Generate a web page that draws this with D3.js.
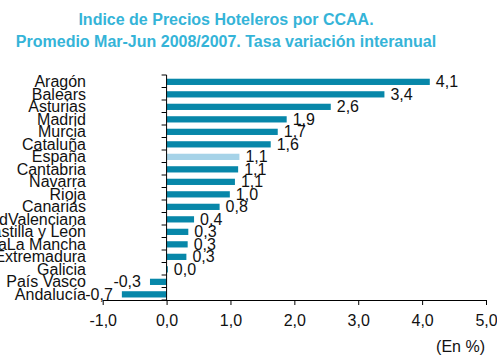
<!DOCTYPE html>
<html>
<head>
<meta charset="utf-8">
<script src="https://cdn.jsdelivr.net/npm/d3@7"></script>
<style>
  html, body { margin: 0; padding: 0; background: #fff; }
  svg { display: block; font-family: "Liberation Sans", Arial, sans-serif; }
</style>
</head>
<body>
<svg id="chart" width="497" height="356"></svg>
<script>
// Hotel price index by autonomous community, Mar-Jun 2008 vs 2007 (%)
const regions = [
  "Aragón", "Balears", "Asturias", "Madrid", "Murcia", "Cataluña", "España",
  "Cantabria", "Navarra", "Rioja", "Canarias", "ComunidadValenciana",
  "Castilla y León", "CastillaLa Mancha", "Extremadura", "Galicia",
  "País Vasco", "Andalucía"
];
const rates = [
  4.12, 3.41, 2.57, 1.88, 1.74, 1.63, 1.14,
  1.12, 1.07, 0.99, 0.83, 0.43,
  0.34, 0.33, 0.31, 0.02,
  -0.26, -0.70
];
const highlight = "España";
const xTicks = [-1, 0, 1, 2, 3, 4, 5];
const titleLines = [
  "Indice de Precios Hoteleros por CCAA.",
  "Promedio Mar-Jun 2008/2007. Tasa variación interanual"
];
const unitLabel = "(En %)";

const data = regions.map((r, i) => ({ region: r, value: rates[i] }));
const fmt = v => d3.format(".1f")(v).replace("−", "-").replace(".", ",");

const svg = d3.select("#chart");
const plot = { left: 102.7, right: 486, top: 75, bottom: 300 };

const x = d3.scaleLinear().domain([-1, 5]).range([plot.left, plot.right]);
const y = d3.scaleBand().domain(regions).range([plot.top, plot.bottom])
  .paddingInner(0.5).paddingOuter(0.25);

const barColor = "#0787A9", highlightColor = "#A6D3E8", titleColor = "#35B4D8";
const textColor = "#111";

// Title
svg.append("g").selectAll("text").data(titleLines).join("text")
  .attr("x", 226)
  .attr("y", (d, i) => 25 + i * 21.5)
  .attr("text-anchor", "middle")
  .attr("font-weight", "bold")
  .attr("font-size", 16)
  .attr("fill", titleColor)
  .text(d => d);

// Bars
svg.append("g").selectAll("rect").data(data).join("rect")
  .attr("x", d => x(Math.min(0, d.value)))
  .attr("y", d => y(d.region) + 0.6)
  .attr("width", d => Math.max(1, Math.abs(x(d.value) - x(0))))
  .attr("height", y.bandwidth())
  .attr("fill", d => d.region === highlight ? highlightColor : barColor);

// Value labels
svg.append("g").selectAll("text").data(data).join("text")
  .attr("x", d => d.value >= 0 ? x(d.value) + 6 : x(d.value) - 9)
  .attr("y", d => y(d.region) + y.bandwidth() / 2)
  .attr("dy", "0.36em")
  .attr("text-anchor", d => d.value >= 0 ? "start" : "end")
  .attr("font-size", 16)
  .attr("fill", textColor)
  .text(d => fmt(d.value));

// Category labels
svg.append("g").selectAll("text").data(data).join("text")
  .attr("x", 86)
  .attr("y", d => y(d.region) + y.bandwidth() / 2)
  .attr("dy", "0.36em")
  .attr("text-anchor", "end")
  .attr("font-size", 16)
  .attr("fill", textColor)
  .text(d => d.region);

// Vertical axis at zero with ticks between categories
const step = y.step();
const boundaries = d3.range(regions.length + 1).map(i => plot.top + i * step);
const yAxis = svg.append("g").attr("stroke", "#000").attr("stroke-width", 1);
yAxis.append("line")
  .attr("x1", x(0)).attr("x2", x(0))
  .attr("y1", plot.top).attr("y2", plot.bottom);
yAxis.selectAll("line.tick").data(boundaries).join("line")
  .attr("class", "tick")
  .attr("x1", x(0) - 5).attr("x2", x(0))
  .attr("y1", d => d).attr("y2", d => d);

// Horizontal axis
const xAxis = d3.axisBottom(x)
  .tickValues(xTicks)
  .tickFormat(fmt)
  .tickSize(5)
  .tickSizeOuter(0)
  .tickPadding(10);
const gx = svg.append("g")
  .attr("transform", `translate(0,${plot.bottom})`)
  .call(xAxis);
gx.select(".domain").attr("stroke", "#000");
gx.selectAll(".tick line").attr("stroke", "#000");
gx.selectAll(".tick text")
  .attr("font-size", 16)
  .attr("font-family", "Liberation Sans, Arial, sans-serif")
  .attr("fill", textColor);

// Unit note
svg.append("text")
  .attr("x", 485)
  .attr("y", 352)
  .attr("text-anchor", "end")
  .attr("font-size", 16)
  .attr("fill", textColor)
  .text(unitLabel);
</script>
</body>
</html>
